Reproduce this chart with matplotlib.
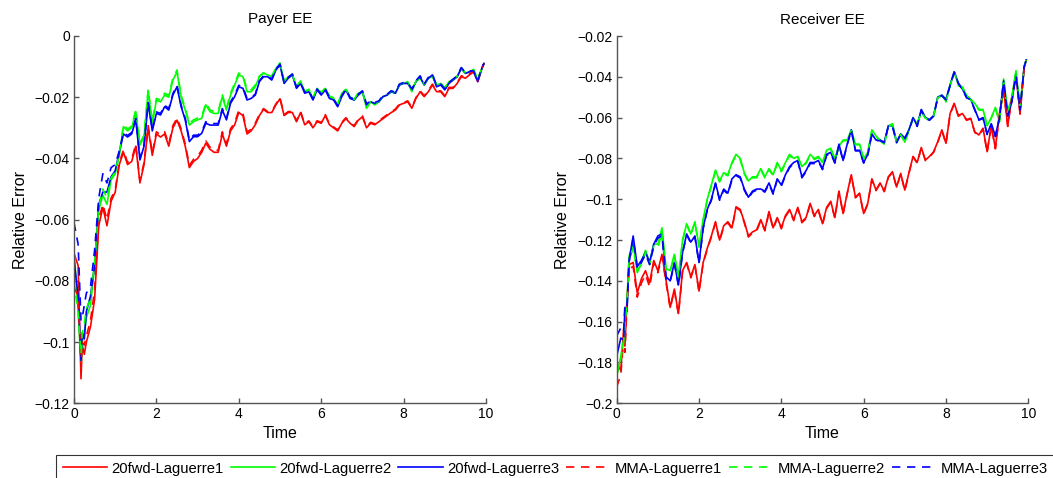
import matplotlib
matplotlib.use("Agg")
import matplotlib.pyplot as plt
from matplotlib.ticker import FuncFormatter, MultipleLocator

plt.rcParams['font.family'] = ['Liberation Sans', 'DejaVu Sans']

# ---------------- data ----------------
TIME = [0.0, 0.1, 0.17, 0.2, 0.25,
        0.3, 0.4, 0.5, 0.6, 0.7, 0.8, 0.9, 1.0, 1.1, 1.2,
        1.3, 1.4, 1.5, 1.6, 1.7, 1.8, 1.9, 2.0, 2.1, 2.2,
        2.3, 2.4, 2.5, 2.6, 2.7, 2.8, 2.9, 3.0, 3.1, 3.2,
        3.3, 3.4, 3.5, 3.6, 3.7, 3.8, 3.9, 4.0, 4.1, 4.2,
        4.3, 4.4, 4.5, 4.6, 4.7, 4.8, 4.9, 5.0, 5.1, 5.2,
        5.3, 5.4, 5.5, 5.6, 5.7, 5.8, 5.9, 6.0, 6.1, 6.2,
        6.3, 6.4, 6.5, 6.6, 6.7, 6.8, 6.9, 7.0, 7.1, 7.2,
        7.3, 7.4, 7.5, 7.6, 7.7, 7.8, 7.9, 8.0, 8.1, 8.2,
        8.3, 8.4, 8.5, 8.6, 8.7, 8.8, 8.9, 9.0, 9.1, 9.2,
        9.3, 9.4, 9.5, 9.6, 9.7, 9.8, 9.9, 9.95]

SERIES_NAMES = ['20fwd-Laguerre1', '20fwd-Laguerre2', '20fwd-Laguerre3',
                'MMA-Laguerre1', 'MMA-Laguerre2', 'MMA-Laguerre3']

# ----- Payer EE -----
PAYER_FWD_L1 = [-0.071, -0.075, -0.112, -0.101, -0.104,
    -0.100, -0.095, -0.086, -0.062, -0.056, -0.062, -0.054, -0.051, -0.042, -0.038,
    -0.042, -0.041, -0.036, -0.048, -0.042, -0.030, -0.039, -0.032, -0.033, -0.032,
    -0.036, -0.030, -0.0275, -0.031, -0.036, -0.043, -0.041, -0.040, -0.038, -0.035,
    -0.037, -0.038, -0.038, -0.032, -0.036, -0.031, -0.029, -0.025, -0.026, -0.032,
    -0.031, -0.029, -0.026, -0.024, -0.025, -0.025, -0.0225, -0.0205, -0.026, -0.025,
    -0.025, -0.028, -0.025, -0.029, -0.028, -0.030, -0.028, -0.0285, -0.026, -0.029,
    -0.030, -0.031, -0.0285, -0.027, -0.0285, -0.0296, -0.0275, -0.0264, -0.030, -0.0285,
    -0.029, -0.028, -0.027, -0.026, -0.025, -0.0242, -0.0225, -0.022, -0.0215, -0.0236,
    -0.0204, -0.0182, -0.0198, -0.0182, -0.016, -0.0182, -0.0182, -0.0198, -0.0171, -0.0171,
    -0.0155, -0.0133, -0.0138, -0.0127, -0.0117, -0.0149, -0.0106, -0.009]
PAYER_FWD_L2 = [-0.070, -0.0895, -0.108, -0.100, -0.097,
    -0.092, -0.088, -0.075, -0.057, -0.052, -0.055, -0.047, -0.045, -0.039, -0.0296,
    -0.031, -0.030, -0.0247, -0.0356, -0.033, -0.018, -0.0285, -0.021, -0.0215, -0.0193,
    -0.020, -0.0144, -0.0117, -0.020, -0.0242, -0.0291, -0.028, -0.0274, -0.0269, -0.0225,
    -0.0247, -0.0253, -0.0253, -0.0198, -0.0242, -0.0193, -0.016, -0.0127, -0.0133, -0.0182,
    -0.0182, -0.0166, -0.0133, -0.0122, -0.0127, -0.0133, -0.0106, -0.009, -0.0149, -0.0133,
    -0.0127, -0.0166, -0.0149, -0.0182, -0.0176, -0.0204, -0.0171, -0.0187, -0.0171, -0.0198,
    -0.0204, -0.0225, -0.0187, -0.0176, -0.0198, -0.0209, -0.0187, -0.0182, -0.0236, -0.0215,
    -0.0225, -0.0215, -0.0198, -0.0193, -0.0182, -0.0187, -0.016, -0.0155, -0.0149, -0.0182,
    -0.0149, -0.0138, -0.016, -0.0138, -0.0133, -0.016, -0.0155, -0.0171, -0.0149, -0.0144,
    -0.0133, -0.0106, -0.0122, -0.0117, -0.0111, -0.0144, -0.0106, -0.009]
PAYER_FWD_L3 = [-0.073, -0.085, -0.106, -0.097, -0.099,
    -0.090, -0.085, -0.075, -0.055, -0.051, -0.051, -0.046, -0.044, -0.038, -0.032,
    -0.033, -0.032, -0.0274, -0.0405, -0.036, -0.022, -0.031, -0.0253, -0.0258, -0.0231,
    -0.0242, -0.0193, -0.0166, -0.0231, -0.0274, -0.0345, -0.0329, -0.0329, -0.0318, -0.0285,
    -0.0291, -0.0291, -0.0291, -0.0242, -0.0274, -0.022, -0.0198, -0.0166, -0.0171, -0.0209,
    -0.0204, -0.0193, -0.0149, -0.0133, -0.0133, -0.0144, -0.0111, -0.0095, -0.0155, -0.0138,
    -0.0127, -0.0171, -0.0155, -0.0187, -0.0182, -0.0209, -0.0176, -0.0193, -0.0176, -0.0204,
    -0.0209, -0.0231, -0.0198, -0.0176, -0.0204, -0.0209, -0.0193, -0.0182, -0.0225, -0.0215,
    -0.022, -0.0215, -0.0198, -0.0193, -0.0182, -0.0187, -0.016, -0.0155, -0.0155, -0.0176,
    -0.0149, -0.0133, -0.016, -0.0138, -0.0127, -0.0166, -0.016, -0.0176, -0.0155, -0.0144,
    -0.0133, -0.0106, -0.0122, -0.0117, -0.0117, -0.0149, -0.0106, -0.009]
PAYER_MMA_L1 = [-0.082, -0.085, -0.108, -0.100, -0.101,
    -0.098, -0.093, -0.083, -0.060, -0.055, -0.060, -0.053, -0.0503, -0.0413, -0.0373,
    -0.0413, -0.0403, -0.0353, -0.0473, -0.0413, -0.0293, -0.0383, -0.0313, -0.0323, -0.0313,
    -0.0353, -0.0293, -0.0268, -0.0303, -0.0353, -0.0423, -0.0403, -0.0393, -0.0373, -0.0343,
    -0.0363, -0.0373, -0.0373, -0.0313, -0.0353, -0.0303, -0.0283, -0.0243, -0.0253, -0.0313,
    -0.0305, -0.0285, -0.0256, -0.0237, -0.0247, -0.0247, -0.0222, -0.0202, -0.0257, -0.0247,
    -0.0247, -0.0277, -0.0247, -0.0287, -0.0277, -0.0297, -0.0277, -0.0282, -0.0257, -0.0287,
    -0.0297, -0.0307, -0.0282, -0.0267, -0.0282, -0.0293, -0.0272, -0.0261, -0.0297, -0.0282,
    -0.0287, -0.0277, -0.0267, -0.0257, -0.0247, -0.0239, -0.0222, -0.0217, -0.0212, -0.0233,
    -0.0201, -0.0179, -0.0195, -0.0179, -0.0157, -0.0179, -0.0179, -0.0195, -0.0168, -0.0168,
    -0.0152, -0.0130, -0.0135, -0.0124, -0.0115, -0.0146, -0.0104, -0.009]
PAYER_MMA_L2 = [-0.080, -0.090, -0.104, -0.097, -0.094,
    -0.089, -0.086, -0.074, -0.056, -0.050, -0.053, -0.0464, -0.0444, -0.0384, -0.029,
    -0.0304, -0.0294, -0.0241, -0.035, -0.0324, -0.0174, -0.0279, -0.0204, -0.0209, -0.0187,
    -0.0194, -0.0138, -0.0111, -0.0194, -0.0236, -0.0285, -0.0274, -0.0268, -0.0263, -0.0219,
    -0.0241, -0.0247, -0.0247, -0.0192, -0.0236, -0.0187, -0.0154, -0.0121, -0.0127, -0.0176,
    -0.0176, -0.016, -0.0131, -0.012, -0.0125, -0.0131, -0.0104, -0.0088, -0.0147, -0.0131,
    -0.0125, -0.0164, -0.0147, -0.018, -0.0174, -0.0202, -0.0169, -0.0185, -0.0169, -0.0196,
    -0.0202, -0.0223, -0.0185, -0.0174, -0.0196, -0.0207, -0.0185, -0.018, -0.0234, -0.0213,
    -0.0223, -0.0213, -0.0196, -0.0191, -0.018, -0.0185, -0.0158, -0.0153, -0.0147, -0.018,
    -0.0147, -0.0136, -0.0158, -0.0136, -0.0131, -0.0158, -0.0153, -0.0169, -0.0147, -0.0142,
    -0.0131, -0.0104, -0.012, -0.0115, -0.0109, -0.0142, -0.0104, -0.009]
PAYER_MMA_L3 = [-0.061, -0.068, -0.093, -0.092, -0.088,
    -0.084, -0.082, -0.070, -0.053, -0.045, -0.048, -0.043, -0.042, -0.0375, -0.0315,
    -0.0325, -0.0315, -0.0269, -0.04, -0.0355, -0.0215, -0.0305, -0.0248, -0.0253, -0.0226,
    -0.0237, -0.0188, -0.0161, -0.0226, -0.0269, -0.034, -0.0324, -0.0324, -0.0313, -0.028,
    -0.0286, -0.0286, -0.0286, -0.0237, -0.0269, -0.0215, -0.0193, -0.0161, -0.0166, -0.0204,
    -0.0201, -0.019, -0.0146, -0.013, -0.013, -0.0141, -0.0108, -0.0092, -0.0152, -0.0135,
    -0.0124, -0.0168, -0.0152, -0.0184, -0.0179, -0.0206, -0.0173, -0.019, -0.0173, -0.0201,
    -0.0206, -0.0228, -0.0195, -0.0173, -0.0201, -0.0206, -0.019, -0.0179, -0.0222, -0.0212,
    -0.0217, -0.0212, -0.0195, -0.019, -0.0179, -0.0184, -0.0157, -0.0152, -0.0152, -0.0173,
    -0.0146, -0.013, -0.0157, -0.0135, -0.0124, -0.0163, -0.0157, -0.0173, -0.0152, -0.0141,
    -0.013, -0.0103, -0.0119, -0.0114, -0.0114, -0.0146, -0.0103, -0.009]

# ----- Receiver EE -----
RECV_FWD_L1 = [-0.180, -0.184, -0.163, -0.172, -0.150,
    -0.132, -0.131, -0.146, -0.139, -0.135, -0.141, -0.130, -0.135, -0.127, -0.140,
    -0.153, -0.144, -0.156, -0.135, -0.131, -0.138, -0.132, -0.145, -0.131, -0.124,
    -0.118, -0.111, -0.120, -0.113, -0.111, -0.114, -0.1037, -0.105, -0.111, -0.118,
    -0.116, -0.115, -0.110, -0.115, -0.106, -0.114, -0.109, -0.114, -0.108, -0.105,
    -0.110, -0.104, -0.111, -0.109, -0.102, -0.108, -0.105, -0.112, -0.104, -0.101,
    -0.109, -0.096, -0.107, -0.097, -0.088, -0.099, -0.097, -0.107, -0.102, -0.090,
    -0.0955, -0.092, -0.096, -0.089, -0.0865, -0.094, -0.0873, -0.0955, -0.087, -0.079,
    -0.082, -0.0746, -0.0808, -0.079, -0.0767, -0.0718, -0.066, -0.0726, -0.058, -0.053,
    -0.059, -0.058, -0.061, -0.0603, -0.067, -0.0685, -0.0652, -0.0767, -0.064, -0.075,
    -0.058, -0.0465, -0.064, -0.050, -0.039, -0.058, -0.035, -0.0318]
RECV_FWD_L2 = [-0.187, -0.177, -0.168, -0.160, -0.150,
    -0.128, -0.122, -0.136, -0.131, -0.125, -0.131, -0.122, -0.122, -0.114, -0.134,
    -0.135, -0.127, -0.138, -0.120, -0.112, -0.117, -0.111, -0.123, -0.110, -0.100,
    -0.093, -0.0857, -0.091, -0.087, -0.088, -0.082, -0.078, -0.080, -0.087, -0.091,
    -0.089, -0.089, -0.085, -0.089, -0.085, -0.088, -0.082, -0.086, -0.082, -0.078,
    -0.080, -0.079, -0.084, -0.082, -0.078, -0.080, -0.079, -0.082, -0.076, -0.075,
    -0.080, -0.074, -0.071, -0.071, -0.066, -0.073, -0.073, -0.080, -0.077, -0.066,
    -0.069, -0.071, -0.073, -0.064, -0.063, -0.072, -0.068, -0.072, -0.066, -0.060,
    -0.063, -0.057, -0.060, -0.061, -0.059, -0.050, -0.049, -0.052, -0.044, -0.0375,
    -0.044, -0.045, -0.049, -0.051, -0.053, -0.056, -0.056, -0.064, -0.060, -0.055,
    -0.062, -0.041, -0.057, -0.050, -0.037, -0.055, -0.035, -0.0318]
RECV_FWD_L3 = [-0.177, -0.168, -0.169, -0.153, -0.155,
    -0.130, -0.118, -0.133, -0.130, -0.126, -0.131, -0.122, -0.118, -0.117, -0.138,
    -0.140, -0.131, -0.142, -0.126, -0.117, -0.121, -0.118, -0.131, -0.114, -0.105,
    -0.100, -0.092, -0.100, -0.095, -0.097, -0.090, -0.088, -0.089, -0.095, -0.099,
    -0.096, -0.095, -0.095, -0.096, -0.092, -0.097, -0.090, -0.093, -0.088, -0.084,
    -0.082, -0.081, -0.089, -0.086, -0.082, -0.082, -0.081, -0.085, -0.078, -0.077,
    -0.082, -0.073, -0.081, -0.073, -0.066, -0.076, -0.076, -0.082, -0.078, -0.068,
    -0.071, -0.071, -0.072, -0.064, -0.064, -0.072, -0.068, -0.070, -0.066, -0.060,
    -0.064, -0.056, -0.060, -0.061, -0.059, -0.050, -0.049, -0.051, -0.044, -0.0375,
    -0.043, -0.046, -0.050, -0.051, -0.056, -0.061, -0.060, -0.068, -0.063, -0.069,
    -0.060, -0.042, -0.059, -0.052, -0.039, -0.056, -0.035, -0.0318]
RECV_MMA_L1 = [-0.192, -0.186, -0.168, -0.175, -0.152,
    -0.134, -0.133, -0.148, -0.141, -0.137, -0.143, -0.131, -0.136, -0.128, -0.141,
    -0.1535, -0.1445, -0.1565, -0.1355, -0.1315, -0.1385, -0.1325, -0.1455, -0.1315, -0.1245,
    -0.1185, -0.1115, -0.1205, -0.1135, -0.1115, -0.1145, -0.1042, -0.1055, -0.1115, -0.1185,
    -0.1165, -0.1155, -0.1105, -0.1155, -0.1065, -0.1145, -0.1095, -0.1145, -0.1085, -0.1055,
    -0.1105, -0.1045, -0.1115, -0.1095, -0.1025, -0.1085, -0.1055, -0.1125, -0.1045, -0.1015,
    -0.1093, -0.0963, -0.1073, -0.0973, -0.0883, -0.0993, -0.0973, -0.1073, -0.1023, -0.0903,
    -0.0958, -0.0923, -0.0963, -0.0893, -0.0868, -0.0943, -0.0876, -0.0958, -0.0873, -0.0793,
    -0.0823, -0.0749, -0.0811, -0.0793, -0.077, -0.0721, -0.0663, -0.0729, -0.0583, -0.0533,
    -0.0593, -0.0583, -0.0613, -0.0606, -0.0673, -0.0688, -0.0655, -0.077, -0.0643, -0.0753,
    -0.0583, -0.0468, -0.0643, -0.0503, -0.0393, -0.0583, -0.0352, -0.0318]
RECV_MMA_L2 = [-0.186, -0.178, -0.170, -0.162, -0.151,
    -0.130, -0.124, -0.135, -0.132, -0.126, -0.132, -0.123, -0.124, -0.116, -0.135,
    -0.1355, -0.1275, -0.1385, -0.1205, -0.1125, -0.1175, -0.1115, -0.1235, -0.1105, -0.1005,
    -0.0935, -0.0862, -0.0915, -0.0875, -0.0885, -0.0825, -0.0785, -0.0805, -0.0875, -0.0915,
    -0.0895, -0.0895, -0.0855, -0.0895, -0.0855, -0.0885, -0.0825, -0.0865, -0.0825, -0.0785,
    -0.0805, -0.0795, -0.0845, -0.0825, -0.0785, -0.0805, -0.0795, -0.0825, -0.0765, -0.0755,
    -0.0803, -0.0743, -0.0713, -0.0713, -0.0663, -0.0733, -0.0733, -0.0803, -0.0773, -0.0663,
    -0.0693, -0.0713, -0.0733, -0.0643, -0.0633, -0.0723, -0.0683, -0.0723, -0.0663, -0.0603,
    -0.0633, -0.0573, -0.0603, -0.0613, -0.0593, -0.0503, -0.0493, -0.0523, -0.0443, -0.0378,
    -0.0443, -0.0453, -0.0493, -0.0513, -0.0533, -0.0563, -0.0563, -0.0643, -0.0603, -0.0553,
    -0.0623, -0.0413, -0.0573, -0.0503, -0.0373, -0.0553, -0.0352, -0.0318]
RECV_MMA_L3 = [-0.167, -0.163, -0.165, -0.152, -0.153,
    -0.131, -0.119, -0.134, -0.131, -0.127, -0.132, -0.123, -0.119, -0.118, -0.139,
    -0.1405, -0.1315, -0.1425, -0.1265, -0.1175, -0.1215, -0.1185, -0.1315, -0.1145, -0.1055,
    -0.1005, -0.0925, -0.1005, -0.0955, -0.0975, -0.0905, -0.0885, -0.0895, -0.0955, -0.0995,
    -0.0965, -0.0955, -0.0955, -0.0965, -0.0925, -0.0975, -0.0905, -0.0935, -0.0885, -0.0845,
    -0.0825, -0.0815, -0.0895, -0.0865, -0.0825, -0.0825, -0.0815, -0.0855, -0.0785, -0.0775,
    -0.0823, -0.0733, -0.0813, -0.0733, -0.0663, -0.0763, -0.0763, -0.0823, -0.0783, -0.0683,
    -0.0713, -0.0713, -0.0723, -0.0643, -0.0643, -0.0723, -0.0683, -0.0703, -0.0663, -0.0603,
    -0.0643, -0.0563, -0.0603, -0.0613, -0.0593, -0.0503, -0.0493, -0.0513, -0.0443, -0.0378,
    -0.0433, -0.0463, -0.0503, -0.0513, -0.0563, -0.0613, -0.0603, -0.0683, -0.0633, -0.0693,
    -0.0603, -0.0423, -0.0593, -0.0523, -0.0393, -0.0563, -0.0352, -0.0318]

PAYER = [PAYER_FWD_L1, PAYER_FWD_L2, PAYER_FWD_L3, PAYER_MMA_L1, PAYER_MMA_L2, PAYER_MMA_L3]
RECV = [RECV_FWD_L1, RECV_FWD_L2, RECV_FWD_L3, RECV_MMA_L1, RECV_MMA_L2, RECV_MMA_L3]

# ---------------- style ----------------
COLORS = ['#ff0000', '#00ff00', '#0000ff', '#ff0000', '#00ff00', '#0000ff']
STYLES = ['-', '-', '-', (0, (5, 4)), (0, (5, 4)), (0, (5, 4))]
AXIS_COLOR = '#555555'

W, H = 1053, 478
fig = plt.figure(figsize=(W / 100, H / 100), dpi=100)

def make_axes(x0, x1, y0, y1):
    return fig.add_axes([x0 / W, 1 - y1 / H, (x1 - x0) / W, (y1 - y0) / H])

ax1 = make_axes(74, 486, 36, 403.3)
ax2 = make_axes(616.7, 1028.3, 36, 403.3)

fmt = FuncFormatter(lambda v, p: ('%g' % round(v, 6)).replace('-', '\u2212'))

handles = []
for ax, data, title, ylim in [(ax1, PAYER, 'Payer EE', (-0.12, 0.0)),
                              (ax2, RECV, 'Receiver EE', (-0.2, -0.02))]:
    hs = []
    for vals, c, ls in zip(data, COLORS, STYLES):
        ln, = ax.plot(TIME, vals, color=c, linestyle=ls, linewidth=1.2)
        hs.append(ln)
    handles = hs
    ax.set_xlim(0, 10)
    ax.set_ylim(*ylim)
    ax.xaxis.set_major_locator(MultipleLocator(2))
    ax.yaxis.set_major_locator(MultipleLocator(0.02))
    ax.xaxis.set_major_formatter(fmt)
    ax.yaxis.set_major_formatter(fmt)
    for s in ['top', 'right']:
        ax.spines[s].set_visible(False)
    for s in ['left', 'bottom']:
        ax.spines[s].set_color(AXIS_COLOR)
        ax.spines[s].set_linewidth(1.0)
    ax.tick_params(direction='in', length=3.5, width=1.0, color=AXIS_COLOR,
                   labelsize=10, labelcolor='black', pad=3)
    ax.set_title(title, fontsize=11, pad=9)
    ax.set_xlabel('Time', fontsize=11.5, labelpad=3)
    ax.set_ylabel('Relative Error', fontsize=11.5, labelpad=5)

fig.legend(handles, SERIES_NAMES, loc='upper left',
           bbox_to_anchor=(56 / W, 1 - 455 / H), bbox_transform=fig.transFigure,
           ncol=6, fontsize=10.6, frameon=True, fancybox=False,
           edgecolor='black', borderaxespad=0, borderpad=0.45,
           handlelength=3.0, handletextpad=0.3, columnspacing=0.48)
leg = fig.legends[-1]
leg.get_frame().set_linewidth(0.8)

fig.savefig('out.png', dpi=100)
